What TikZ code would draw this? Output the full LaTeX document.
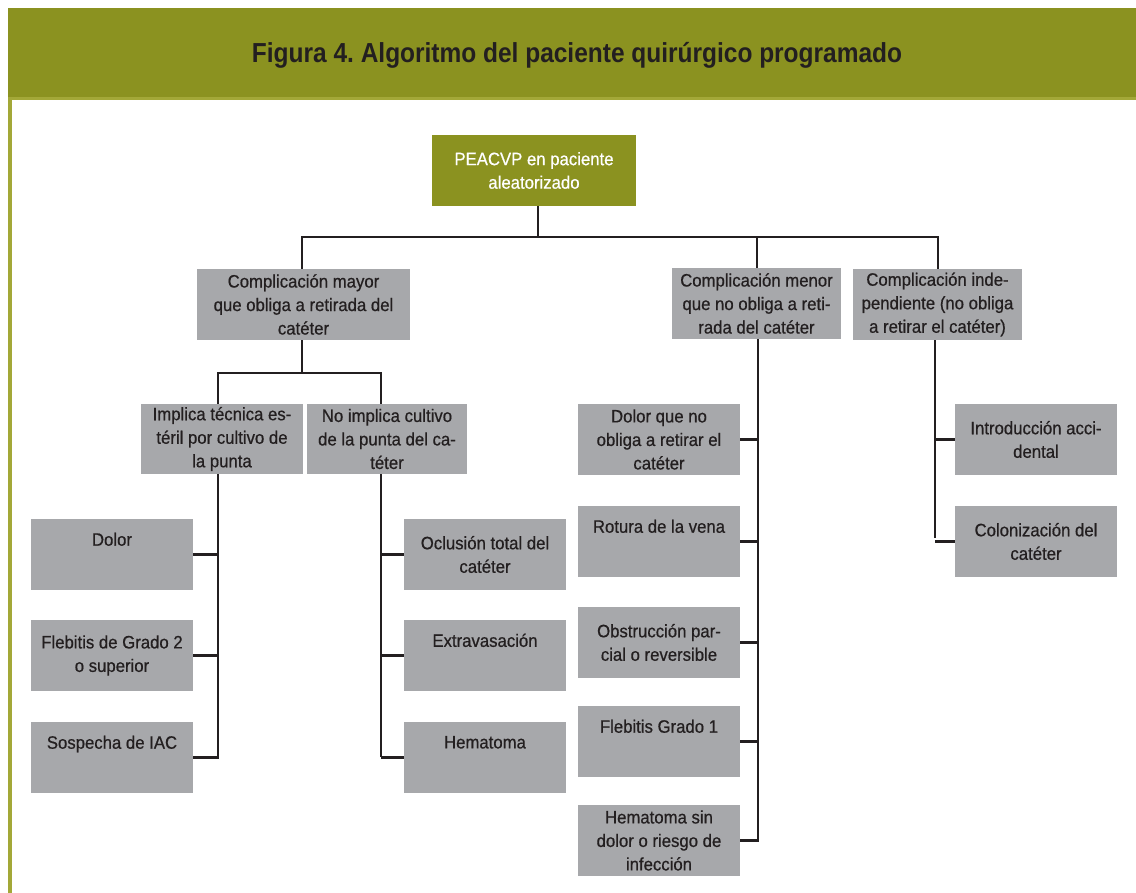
\documentclass[tikz,border=0pt]{standalone}
\usepackage{fontspec}
\setmainfont{Liberation Sans}[FakeStretch=0.93, FakeBold=0.6]
\newfontfamily\titlefont{Liberation Sans}[FakeStretch=0.89]
\frenchspacing
\definecolor{hdrolive}{HTML}{8B9220}
\definecolor{rimolive}{HTML}{A3A838}
\definecolor{boxgray}{HTML}{A7A8AB}
\definecolor{ink}{HTML}{231F20}
\tikzset{
  box/.style={rectangle, fill=boxgray, inner sep=0pt, minimum width=162,
    minimum height=71, align=center, text=ink,
    font=\fontsize{18}{23.5}\selectfont},
  rootbox/.style={box, fill=hdrolive, text=white, minimum width=204},
  wire/.style={draw=ink, line width=2.2pt},
}
\begin{document}
\begin{tikzpicture}[x=1pt,y=-1pt]
\useasboundingbox (0,0) rectangle (1136,893);
% header band and frame
\fill[hdrolive] (8,8) rectangle (1136,97);
\fill[rimolive] (8,97) rectangle (1136,100);
\fill[rimolive] (8,100) rectangle (11.5,893);
\node[text=ink, font=\titlefont\bfseries\fontsize{27.5}{30}\selectfont] (title) at (577,55)
  {Figura 4. Algoritmo del paciente quirúrgico programado};

% top level
\node[rootbox] (root) at (534,170.5) {PEACVP en paciente\\aleatorizado};
\node[box, minimum width=213] (mayor) at (303.5,304.5) {Complicación mayor\\que obliga a retirada del\\catéter};
\node[box, minimum width=169] (menor) at (756.5,303.5) {Complicación menor\\que no obliga a reti-\\rada del catéter};
\node[box, minimum width=169] (indep) at (937.5,304.5) {Complicación inde-\\pendiente (no obliga\\a retirar el catéter)};

% second level under the major branch
\node[box, minimum height=70] (implica) at (222,439) {Implica técnica es-\\téril por cultivo de\\la punta};
\node[box, minimum width=160, minimum height=70] (noimpl) at (387,439) {No implica cultivo\\de la punta del ca-\\téter};

% leaves
\node[box] (dolor) at (112,554.5) {Dolor\\\strut};
\node[box] (fleb2) at (112,655.5) {Flebitis de Grado 2\\o superior};
\node[box] (iac) at (112,757.5) {Sospecha de IAC\\\strut};

\node[box] (oclu) at (485,554.5) {Oclusión total del\\catéter};
\node[box] (extra) at (485,655.5) {Extravasación\\\strut};
\node[box] (hema) at (485,757.5) {Hematoma\\\strut};

\node[box] (dolorno) at (659,439.5) {Dolor que no\\obliga a retirar el\\catéter};
\node[box] (rotura) at (659,541.5) {Rotura de la vena\\\strut};
\node[box] (obstr) at (659,642.5) {Obstrucción par-\\cial o reversible};
\node[box] (fleb1) at (659,741.5) {Flebitis Grado 1\\\strut};
\node[box] (hemsin) at (659,840.5) {Hematoma sin\\dolor o riesgo de\\infección};

\node[box] (intro) at (1036,439.5) {Introducción acci-\\dental};
\node[box] (colon) at (1036,541.5) {Colonización del\\catéter};

% junction points
\coordinate (bus) at (538,237);
\coordinate (jmay) at (302,237);
\coordinate (jind) at (938,237);
\coordinate (jmen) at (757,237);
\coordinate (sub) at (302,373);
\coordinate (jimp) at (218,373);
\coordinate (jno) at (381,373);
\coordinate (spA) at (218,759);
\coordinate (spB) at (381,757);
\coordinate (spC) at (758,842);
\coordinate (spD) at (935,538);

% connectors
\draw[wire] (root.south -| bus) -- (bus);
\draw[wire] (jmay |- mayor.north) -- (jmay) -- (jind) -- (jind |- indep.north);
\draw[wire] (jmen) -- (jmen |- menor.north);
\draw[wire] (mayor.south -| sub) -- (sub);
\draw[wire] (jimp |- implica.north) -- (jimp) -- (jno) -- (jno |- noimpl.north);

\draw[wire] (implica.south -| spA) -- (spA);
\draw[wire] (dolor.east) -- (dolor.east -| spA);
\draw[wire] (fleb2.east) -- (fleb2.east -| spA);
\draw[wire] (iac.east) -- (iac.east -| spA);

\draw[wire] (noimpl.south -| spB) -- (spB);
\draw[wire] (oclu.west) -- (oclu.west -| spB);
\draw[wire] (extra.west) -- (extra.west -| spB);
\draw[wire] (hema.west) -- (hema.west -| spB);

\draw[wire] (menor.south -| spC) -- (spC);
\draw[wire] (dolorno.east) -- (dolorno.east -| spC);
\draw[wire] (rotura.east) -- (rotura.east -| spC);
\draw[wire] (obstr.east) -- (obstr.east -| spC);
\draw[wire] (fleb1.east) -- (fleb1.east -| spC);
\draw[wire] (hemsin.east) -- (hemsin.east -| spC);

\draw[wire] (indep.south -| spD) -- (spD);
\draw[wire] (intro.west) -- (intro.west -| spD);
\draw[wire] (colon.west) -- (colon.west -| spD);
\end{tikzpicture}
\end{document}
